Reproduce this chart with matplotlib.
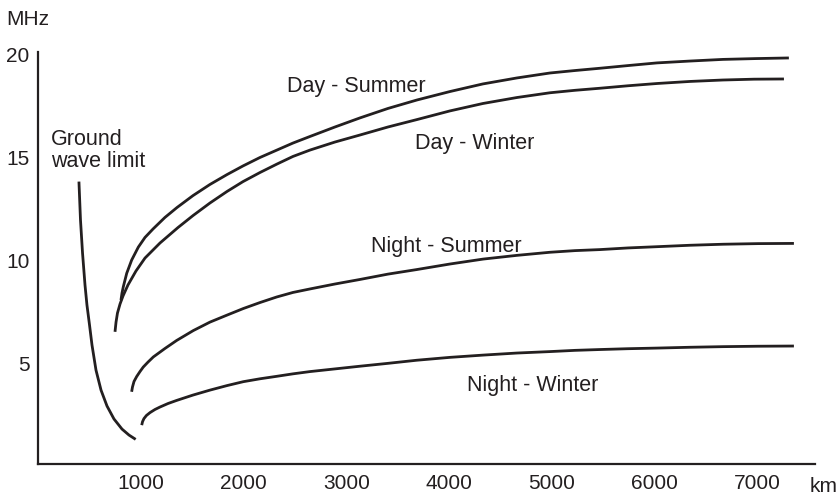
import matplotlib.pyplot as plt

plt.rcParams["font.family"] = ["Liberation Sans", "DejaVu Sans"]

INK = "#231f20"

# distance (km) / frequency (MHz)
ground_km = [398, 413, 433, 457, 476, 501, 525, 564, 613, 671, 739, 817, 885, 950]
ground_mhz = [13.82, 11.96, 10.35, 8.80, 7.83, 6.86, 5.89, 4.67, 3.70, 2.93, 2.30, 1.81, 1.52, 1.31]

day_summer_km = [807, 817, 830, 863, 911, 976, 1041, 1119, 1235, 1352, 1508, 1673, 1839, 1995, 2160, 2325, 2481,
                 2647, 2890, 3133, 3406, 3688, 4009, 4330, 4661, 4982, 5226, 5469, 5741, 6024, 6345, 6666, 6987, 7308]
day_summer_mhz = [8.07, 8.41, 8.72, 9.37, 10.01, 10.64, 11.11, 11.52, 12.08, 12.56, 13.14, 13.68, 14.16, 14.58, 14.99,
                  15.35, 15.69, 16.01, 16.47, 16.91, 17.37, 17.78, 18.19, 18.56, 18.85, 19.09, 19.21, 19.32, 19.45,
                  19.58, 19.67, 19.75, 19.79, 19.82]

day_winter_km = [749, 759, 773, 798, 827, 875, 953, 1041, 1187, 1362, 1508, 1673, 1839, 1995, 2160, 2325, 2481,
                 2647, 2890, 3133, 3406, 3688, 4009, 4330, 4661, 4982, 5226, 5469, 5741, 6024, 6345, 6666, 6968, 7260]
day_winter_mhz = [6.53, 7.00, 7.44, 7.88, 8.27, 8.80, 9.48, 10.11, 10.84, 11.59, 12.17, 12.78, 13.34, 13.82, 14.26,
                  14.67, 15.04, 15.35, 15.74, 16.08, 16.47, 16.83, 17.25, 17.61, 17.90, 18.13, 18.25, 18.35, 18.47,
                  18.58, 18.68, 18.75, 18.79, 18.80]

night_summer_km = [911, 919, 934, 960, 992, 1024, 1070, 1122, 1235, 1349, 1511, 1673, 1839, 1998, 2160, 2323, 2481,
                   2647, 2890, 3133, 3406, 3685, 4009, 4333, 4661, 4982, 5226, 5469, 5741, 6021, 6345, 6669, 7007, 7357]
night_summer_mhz = [3.62, 3.85, 4.12, 4.36, 4.60, 4.82, 5.06, 5.31, 5.72, 6.11, 6.59, 7.00, 7.34, 7.66, 7.95, 8.22,
                    8.44, 8.61, 8.85, 9.07, 9.33, 9.55, 9.82, 10.06, 10.24, 10.39, 10.47, 10.52, 10.60, 10.66, 10.73,
                    10.78, 10.81, 10.82]

night_winter_km = [1009, 1017, 1031, 1055, 1090, 1138, 1187, 1265, 1349, 1508, 1673, 1839, 1998, 2160, 2323, 2481,
                   2647, 2890, 3133, 3406, 3685, 4009, 4333, 4661, 4982, 5226, 5469, 5741, 6021, 6345, 6669, 7007, 7357]
night_winter_mhz = [2.00, 2.17, 2.32, 2.47, 2.61, 2.76, 2.88, 3.05, 3.20, 3.46, 3.70, 3.92, 4.11, 4.25, 4.37, 4.49,
                    4.60, 4.73, 4.86, 5.00, 5.15, 5.29, 5.40, 5.50, 5.57, 5.63, 5.67, 5.71, 5.74, 5.78, 5.81, 5.83, 5.84]

x_ticks = [1000, 2000, 3000, 4000, 5000, 6000, 7000]
y_ticks = [5, 10, 15, 20]

fig = plt.figure(figsize=(8.4, 4.96), dpi=100)
ax = fig.add_axes([0.0453, 0.0639, 0.9249, 0.8313])

curves = [
    (ground_km, ground_mhz),
    (day_summer_km, day_summer_mhz),
    (day_winter_km, day_winter_mhz),
    (night_summer_km, night_summer_mhz),
    (night_winter_km, night_winter_mhz),
]
for km, mhz in curves:
    ax.plot(km, mhz, color=INK, linewidth=2.0, solid_capstyle="butt", solid_joinstyle="round")

# curve labels (left edge, baseline)
lbl = dict(fontsize=15.5, color=INK, ha="left", va="baseline")
ax.text(2423, 18.17, "Day - Summer", **lbl)
ax.text(3669, 15.39, "Day - Winter", **lbl)
ax.text(3237, 10.40, "Night - Summer", **lbl)
ax.text(4172, 3.67, "Night - Winter", **lbl)
ax.text(123, 15.58, "Ground", **lbl)
ax.text(123, 14.54, "wave limit", **lbl)

ax.set_xlim(0, 7562)
ax.set_ylim(0.1, 20.11)
ax.set_xticks(x_ticks)
ax.set_yticks(y_ticks)
ax.tick_params(length=0, labelsize=15, labelcolor=INK)
ax.tick_params(axis="x", pad=7)
ax.tick_params(axis="y", pad=6)
for side in ["top", "right"]:
    ax.spines[side].set_visible(False)
for side in ["left", "bottom"]:
    ax.spines[side].set_linewidth(1.6)
    ax.spines[side].set_color(INK)

fig.text(6 / 840, 1 - 25 / 496, "MHz", fontsize=15, color=INK, ha="left", va="baseline")
fig.text(810 / 840, 1 - 492 / 496, "km", fontsize=15, color=INK, ha="left", va="baseline")

fig.savefig("out.png", dpi=100)
